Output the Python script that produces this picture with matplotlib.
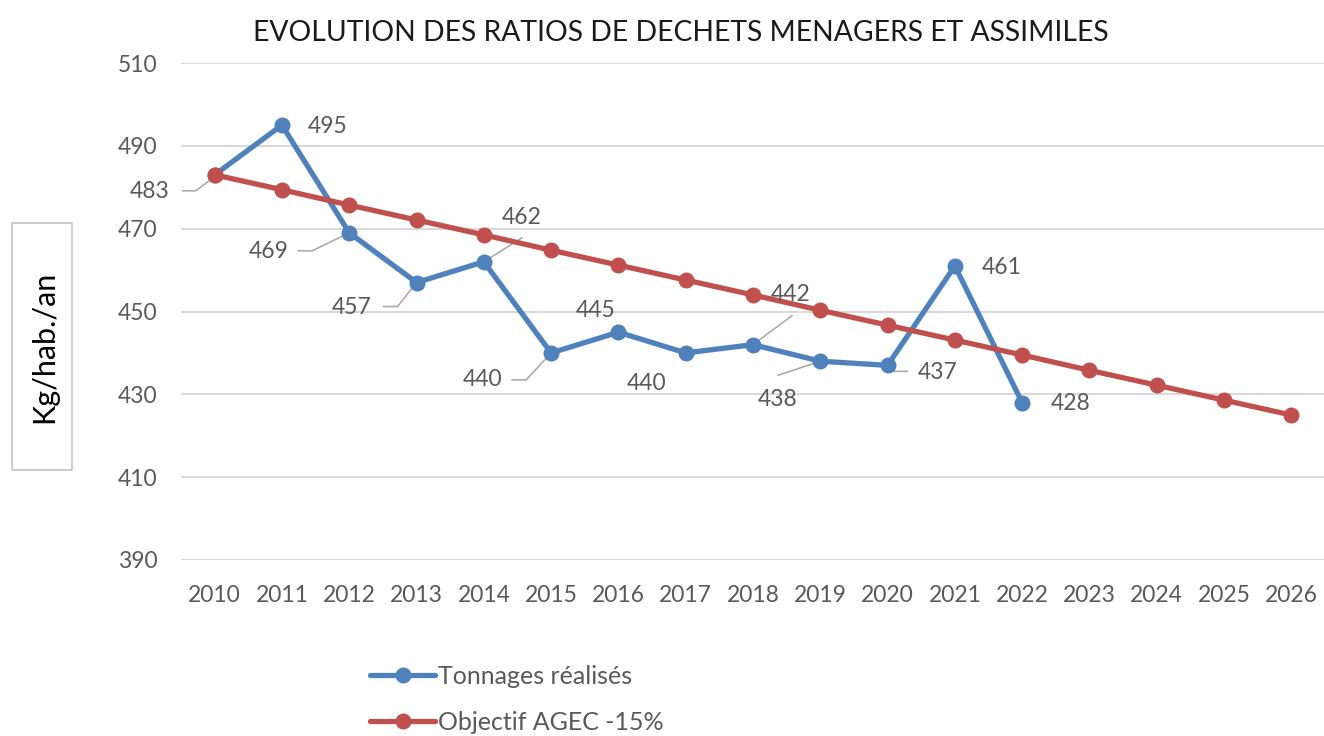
import matplotlib
matplotlib.use("Agg")
import matplotlib.pyplot as plt
from matplotlib.lines import Line2D
from matplotlib.patches import Rectangle
from matplotlib.transforms import IdentityTransform

# --- data ---
years = [str(y) for y in range(2010, 2027)]
realised = [483, 495, 469, 457, 462, 440, 445, 440, 442, 438, 437, 461, 428]
objective = [483, 479.4, 475.7, 472.1, 468.5, 464.8, 461.2, 457.6, 454.0,
             450.3, 446.7, 443.1, 439.5, 435.8, 432.2, 428.6, 425.0]
y_ticks = [390, 410, 430, 450, 470, 490, 510]

title = "EVOLUTION DES RATIOS DE DECHETS MENAGERS ET ASSIMILES"
label_real = "Tonnages réalisés"
label_obj = "Objectif AGEC -15%"
y_label = "Kg/hab./an"

# label placement (pixel offsets from the point, image y pointing down)
label_offsets = [(-65, 17), (46, 1), (-81, 19), (-65, 25), (38, -44), (-69, 27),
                 (-23, -22), (-39, 31), (38, -50), (-43, 38), (50, 7), (47, 2), (48, 1)]
leaders = {
    0: [(-32, 16), (-19, 16), (0, 2)],
    2: [(-51, 18), (-37, 18), (0, 0)],
    3: [(-33, 24), (-19, 24), (0, 0)],
    4: [(38, -24), (0, 0)],
    5: [(-39, 27), (-25, 27), (0, 0)],
    8: [(39, -29), (0, 0)],
    9: [(-42, 14), (0, 0)],
    10: [(20, 6), (7, 6), (0, 0)],
}

BLUE = "#4F81BD"
RED = "#C0504D"
GREY = "#595959"
W, H = 1324, 736

plt.rcParams['font.family'] = ['Lato', 'DejaVu Sans']

fig = plt.figure(figsize=(W / 100, H / 100), dpi=100)
ax = fig.add_axes([181 / W, 1 - 560 / H, 1144 / W, 497 / H])

x_real = list(range(len(realised)))
x_obj = list(range(len(objective)))
l1, = ax.plot(x_real, realised, color=BLUE, lw=3.8, marker='o', ms=10.5,
              solid_capstyle='round', zorder=3, label=label_real)
l2, = ax.plot(x_obj, objective, color=RED, lw=3.8, marker='o', ms=10.5,
              solid_capstyle='round', zorder=4, label=label_obj)

ax.set_xlim(-0.5, len(years) - 0.5)
ax.set_ylim(390, 510)
ax.set_xticks(x_obj)
ax.set_xticklabels(years)
ax.set_yticks(y_ticks)
ax.tick_params(length=0, labelsize=16.5, labelcolor=GREY)
ax.tick_params(axis='x', pad=18)
ax.tick_params(axis='y', pad=17)
ax.grid(axis='y', color='#D9D9D9', lw=1.5)
ax.set_axisbelow(True)
for s in ax.spines.values():
    s.set_visible(False)

# data labels
for i, v in enumerate(realised):
    dx, dy = label_offsets[i]
    ax.annotate(str(v), xy=(i, v), xytext=(dx * 0.72, -dy * 0.72),
                textcoords='offset points', ha='center', va='center',
                fontsize=16.5, color=GREY, zorder=5)

for i, pts in leaders.items():
    bx, by = ax.transData.transform((i, realised[i]))
    xs = [bx + p[0] for p in pts]
    ys = [by - p[1] for p in pts]
    ax.add_line(Line2D(xs, ys, transform=IdentityTransform(), color='#A6A6A6',
                       lw=1.1, zorder=2, clip_on=False))

fig.text(681 / W, 1 - 33 / H, title, ha='center', va='center',
         fontsize=20.3, color='#1a1a1a')

fig.patches.append(Rectangle((12 / W, 1 - 470 / H), 60 / W, 247 / H,
                             transform=fig.transFigure, fill=False,
                             edgecolor='#BFBFBF', lw=1.1))
fig.text(44 / W, 1 - 347 / H, y_label, rotation=90, ha='center', va='center',
         fontsize=22, color='black')

fig.legend(handles=[l1, l2], loc='upper left', bbox_to_anchor=(370 / W, 1 - 665 / H),
           frameon=False, fontsize=18, labelcolor=GREY, handlelength=2.6,
           handletextpad=0.1, labelspacing=0.91, borderpad=0, borderaxespad=0)

fig.savefig("out.png", dpi=100)
